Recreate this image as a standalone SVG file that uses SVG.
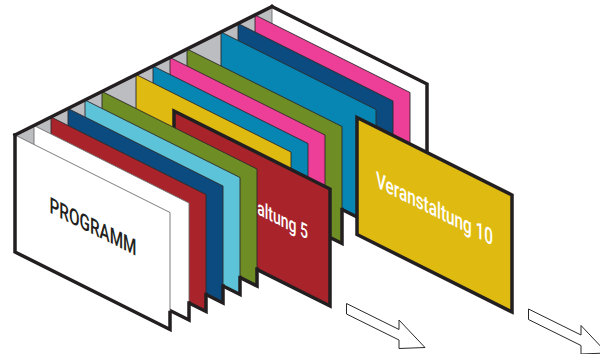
<svg xmlns="http://www.w3.org/2000/svg" width="600" height="354" viewBox="0 0 600 354">
<style>
.card{stroke:#2b2828;stroke-width:0.9;stroke-linejoin:miter}
.wc{fill:#ffffff;stroke:#6e6e6e}
.red{fill:#a8242a}
.dblue{fill:#0c4b7f}
.lblue{fill:#5cc3d8}
.green{fill:#6e8d24}
.yellow{fill:#dfbb11}
.mblue{fill:#0786b4}
.pink{fill:#ee3f98}
.thick{fill:none;stroke:#231f20;stroke-width:3.5;stroke-linejoin:miter;stroke-linecap:square}
.pulled{stroke:#231f20;stroke-width:3.5;stroke-linejoin:miter}
.lbl{font-family:Roboto,"Liberation Sans",Arial,sans-serif;font-weight:500;font-size:22.5px}
.arrow{fill:#ffffff;stroke:#2b2828;stroke-width:1;stroke-linejoin:miter}
</style>
<rect width="600" height="354" fill="#ffffff"/>
<polygon id="box-interior" points="15,135 272,6.5 272,60 15,190" fill="#bcbdc1"/>
<g id="card15">
<polygon class="card wc" points="272,6.5 427,84 427,201 272,123.5"/>
<polyline class="thick" points="272,123.5 427,201 427,84 272,6.5"/>
</g>
<g id="card14">
<polygon class="card pink" points="255,15 410,92.5 410,209.5 255,132"/>
<polyline class="thick" points="255,132 410,209.5 410,192.5"/>
</g>
<g id="card13">
<polygon class="card dblue" points="238,23.5 393,101 393,218 238,140.5"/>
<polyline class="thick" points="238,140.5 393,218 393,201"/>
</g>
<g id="card12">
<polygon class="card mblue" points="221,32 376,109.5 376,226.5 221,149"/>
<polyline class="thick" points="221,149 376,226.5 376,209.5"/>
</g>
<g id="veranstaltung10">
<polygon class="pulled yellow" points="357,117.5 512,195 512,312 357,234.5"/>
<text class="lbl" fill="#ffffff" transform="translate(376 187) matrix(1 0.5 0 1 0 0)" textLength="117" lengthAdjust="spacingAndGlyphs">Veranstaltung 10</text>
</g>
<g id="card10">
<polygon class="card green" points="187,49 342,126.5 342,243.5 187,166"/>
<polyline class="thick" points="187,166 342,243.5 342,209.5"/>
</g>
<g id="card9">
<polygon class="card pink" points="170,57.5 325,135 325,252 170,174.5"/>
<polyline class="thick" points="170,174.5 325,252 325,235"/>
</g>
<g id="card8">
<polygon class="card mblue" points="153,66 308,143.5 308,260.5 153,183"/>
<polyline class="thick" points="153,183 308,260.5 308,243.5"/>
</g>
<g id="card7">
<polygon class="card yellow" points="136,74.5 291,152 291,269 136,191.5"/>
<polyline class="thick" points="136,191.5 291,269 291,252"/>
</g>
<g id="veranstaltung5">
<polygon class="pulled red" points="174,111 330,189 330,306 174,228"/>
<text class="lbl" fill="#ffffff" style="font-size:20.5px" transform="translate(209 190) matrix(1 0.5 0 1 0 0)" textLength="99" lengthAdjust="spacingAndGlyphs">Veranstaltung 5</text>
</g>
<g id="card5">
<polygon class="card green" points="102,91.5 257,169 257,286 102,208.5"/>
<polyline class="thick" points="102,208.5 257,286 257,269"/>
</g>
<g id="card4">
<polygon class="card lblue" points="85,100 240,177.5 240,294.5 85,217"/>
<polyline class="thick" points="85,217 240,294.5 240,277.5"/>
</g>
<g id="card3">
<polygon class="card dblue" points="68,108.5 223,186 223,303 68,225.5"/>
<polyline class="thick" points="68,225.5 223,303 223,286"/>
</g>
<g id="card2">
<polygon class="card red" points="51,117 206,194.5 206,311.5 51,234"/>
<polyline class="thick" points="51,234 206,311.5 206,294.5"/>
</g>
<g id="card1">
<polygon class="card wc" points="34,125.5 189,203 189,320 34,242.5"/>
<polyline class="thick" points="34,242.5 189,320 189,303"/>
</g>
<g id="programm">
<polygon class="card wc" points="15,135 170,212.5 170,329.5 15,252"/>
<polyline class="thick" points="15,135 15,252 170,329.5 170,312.5"/>
<text class="lbl" fill="#231f20" transform="translate(49.5 212.5) matrix(1 0.5 0 1 0 0)" textLength="87" lengthAdjust="spacingAndGlyphs">PROGRAMM</text>
</g>
<line id="spine" class="thick" x1="15" y1="135" x2="272" y2="6.5"/>
<g id="connectors">
<polygon class="arrow" points="346.5,303.5 399,329.5 399,320 425,347.5 399,348.5 399,340 346.5,314"/>
<polygon class="arrow" points="528.5,309 581,335 581,325.5 607,353 581,354 581,345.5 528.5,319.5"/>
</g>
</svg>
